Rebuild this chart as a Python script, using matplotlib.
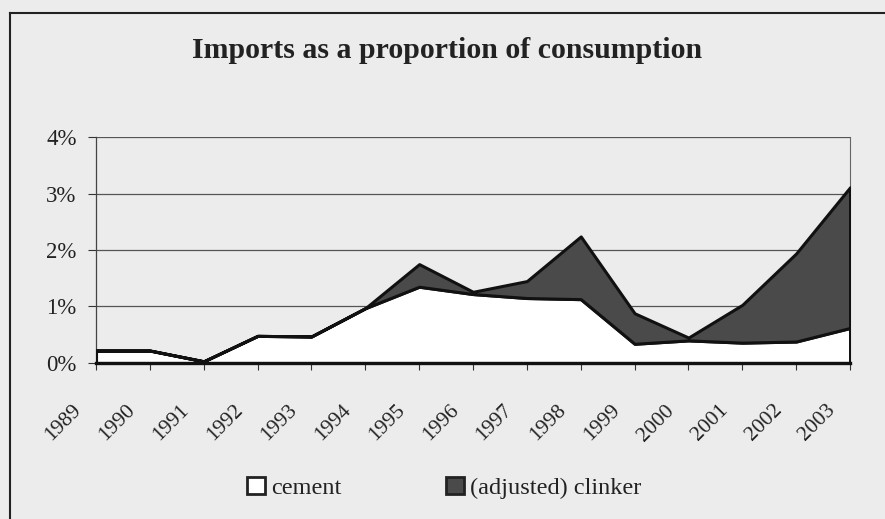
import matplotlib.pyplot as plt
import matplotlib.transforms as mtransforms
from matplotlib.lines import Line2D
from matplotlib.patches import Patch

# Imports as a share of consumption (%), stacked: cement first, clinker on top
years = [1989, 1990, 1991, 1992, 1993, 1994, 1995, 1996, 1997, 1998,
         1999, 2000, 2001, 2002, 2003]
cement = [0.22, 0.22, 0.03, 0.48, 0.47, 0.97, 1.35, 1.22, 1.15, 1.13,
          0.34, 0.40, 0.36, 0.38, 0.62]
total = [0.22, 0.22, 0.03, 0.48, 0.47, 0.97, 1.75, 1.26, 1.45, 2.24,
         0.88, 0.45, 1.03, 1.94, 3.11]
clinker = [t - c for t, c in zip(total, cement)]
y_ticks = [0, 1, 2, 3, 4]

plt.rcParams["font.family"] = ["Liberation Serif", "DejaVu Serif"]

BG = "#ececec"
fig = plt.figure(figsize=(8.85, 5.19), dpi=100, facecolor=BG)
ax = fig.add_axes([0.1085, 0.3006, 0.8520, 0.4354])
ax.set_facecolor("none")

ax.stackplot(years, cement, clinker, colors=["white", "#4a4a4a"],
             edgecolor="#111111", linewidth=2.2, zorder=3)

ax.set_xlim(years[0], years[-1])
ax.set_ylim(0, 4)
ax.set_yticks(y_ticks)
ax.set_yticklabels([f"{v}%" for v in y_ticks])
ax.set_xticks(years)
ax.set_xticklabels([str(y) for y in years], rotation=45, ha="right", va="top",
                   rotation_mode="anchor")
ax.tick_params(axis="y", labelsize=16.5, length=6, width=0.8, color="#333333",
               pad=8, labelcolor="#222222")
ax.tick_params(axis="x", labelsize=15.5, length=5, width=0.8, color="#333333",
               pad=0, labelcolor="#222222")

# shift the slanted year labels down and left of their ticks
shift = mtransforms.ScaledTranslation(-0.24, -0.31, fig.dpi_scale_trans)
for lbl in ax.get_xticklabels():
    lbl.set_transform(lbl.get_transform() + shift)

for v in y_ticks[1:]:
    ax.axhline(v, color="#555555", linewidth=0.9, zorder=1)

ax.spines["top"].set_visible(False)
ax.spines["left"].set_color("#444444")
ax.spines["left"].set_linewidth(0.9)
ax.spines["right"].set_color("#666666")
ax.spines["right"].set_linewidth(0.8)
ax.spines["bottom"].set_color("#111111")
ax.spines["bottom"].set_linewidth(2.4)
ax.spines["bottom"].set_zorder(4)

fig.text(0.505, 1 - 58 / 519, "Imports as a proportion of consumption",
         ha="center", va="baseline", fontsize=21.5, fontweight="bold",
         color="#222222")

handles = [Patch(facecolor="white", edgecolor="#222222", linewidth=2),
           Patch(facecolor="#4a4a4a", edgecolor="#222222", linewidth=2)]
fig.legend(handles, ["cement", "(adjusted) clinker"], loc="center",
           bbox_to_anchor=(0.502, 0.06), ncol=2, frameon=False, fontsize=17.5,
           labelcolor="#222222", handlelength=0.75, handleheight=0.75,
           handletextpad=0.25, columnspacing=4.3)

# outer chart frame (left and top edges)
fig.add_artist(Line2D([10 / 885, 10 / 885], [0, 1 - 13 / 519],
                      transform=fig.transFigure, color="#222222", linewidth=1.5))
fig.add_artist(Line2D([10 / 885, 1], [1 - 13 / 519, 1 - 13 / 519],
                      transform=fig.transFigure, color="#222222", linewidth=1.5))

fig.savefig("out.png", dpi=100, facecolor=BG)
